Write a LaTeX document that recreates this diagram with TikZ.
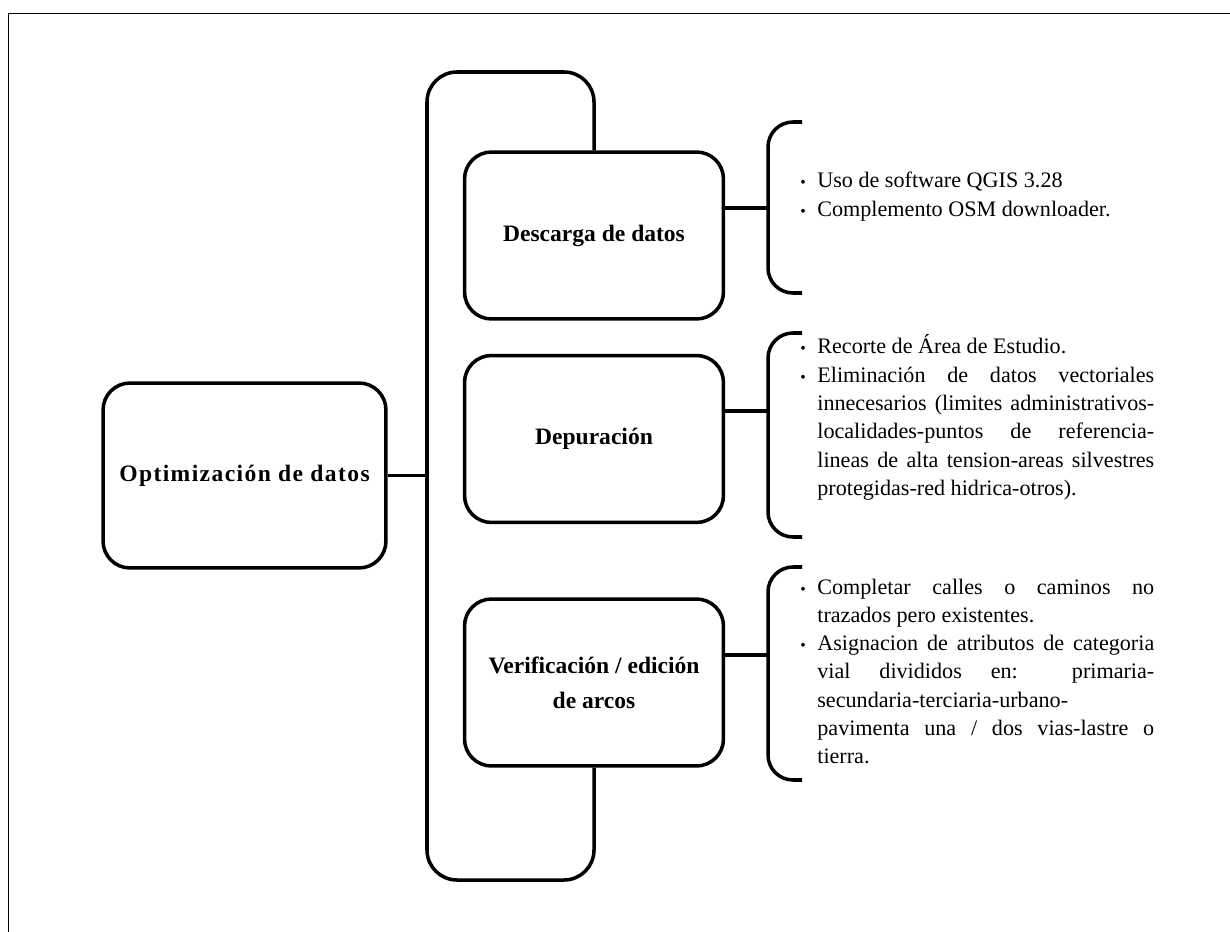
\documentclass[tikz,border=0pt]{standalone}
\usepackage{fontspec}
\setmainfont{Liberation Serif}
\usepackage{tikz}
\usetikzlibrary{positioning,calc}

\newcommand{\bitem}[1]{\hangindent=0.34cm\hangafter=1\noindent%
  \makebox[0.34cm][l]{\fontsize{9}{9}\selectfont\textbullet}#1\par}

\begin{document}
\begin{tikzpicture}[x=0.02cm,y=-0.02cm,
  box/.style={draw,rounded corners=0.54cm,line width=2pt,fill=white,
              minimum width=5.18cm,minimum height=3.34cm,align=center,
              font=\bfseries\fontsize{13.4}{19.9}\selectfont},
  link/.style={line width=2pt},
  brace/.style={line width=2pt,rounded corners=0.5cm},
  info/.style={anchor=base west,inner sep=0pt,text width=7.08cm,align=justify,
               font=\fontsize{12.6}{16.1}\selectfont}
]
\useasboundingbox (0,0) rectangle (1230,932);
\draw[line width=1.1pt] (8.5,932) -- (8.5,13.5) -- (1230,13.5);

\node[box,minimum width=5.66cm,minimum height=3.7cm] (opt) at (244.5,475.5)
  {\addfontfeature{LetterSpace=6}Optimización de datos};
\node[box] (desc) at (594,235.5) {Descarga de datos};
\node[box] (dep)  at (594,439)   {Depuración};
\node[box] (ver)  at (594,682.5) {Verificación / edición\\de arcos};

\coordinate (tl)  at (427,72);
\coordinate (bl)  at (427,880);
\coordinate (hub) at (427,475.5);
\draw[brace,rounded corners=0.6cm] (desc.north) |- (tl) -- (bl) -| (ver.south);
\draw[link] (opt) -- (hub);

\coordinate (b1) at (768,208);
\coordinate (b2) at (768,411);
\coordinate (b3) at (768,655);
\draw[brace] (802,122) -- (768,122) -- (768,293) -- (802,293);
\draw[brace] (802,333) -- (768,333) -- (768,537) -- (802,537);
\draw[brace] (802,567) -- (768,567) -- (768,780) -- (802,780);
\draw[link] (desc.east |- b1) -- (b1);
\draw[link] (dep.east |- b2) -- (b2);
\draw[link] (ver.east |- b3) -- (b3);

\node[info] (descT) at (800,188)
  {\bitem{Uso de software QGIS 3.28}\bitem{Complemento OSM downloader.}};
\node[info] (depT) at (800,354)
  {\bitem{Recorte de Área de Estudio.}%
   \bitem{Eliminación de datos vectoriales \linebreak innecesarios (limites
   administrativos-\linebreak localidades-puntos de referencia-\linebreak
   lineas de alta tension-areas silvestres \linebreak protegidas-red
   hidrica-otros).}};
\node[info] (verT) at (800,594)
  {\bitem{Completar calles o caminos no \linebreak trazados pero existentes.}%
   \bitem{Asignacion de atributos de categoria \linebreak vial divididos en:
   primaria-\linebreak secundaria-terciaria-urbano-\newline pavimenta una /
   dos vias-lastre o \linebreak tierra.}};
\end{tikzpicture}
\end{document}
